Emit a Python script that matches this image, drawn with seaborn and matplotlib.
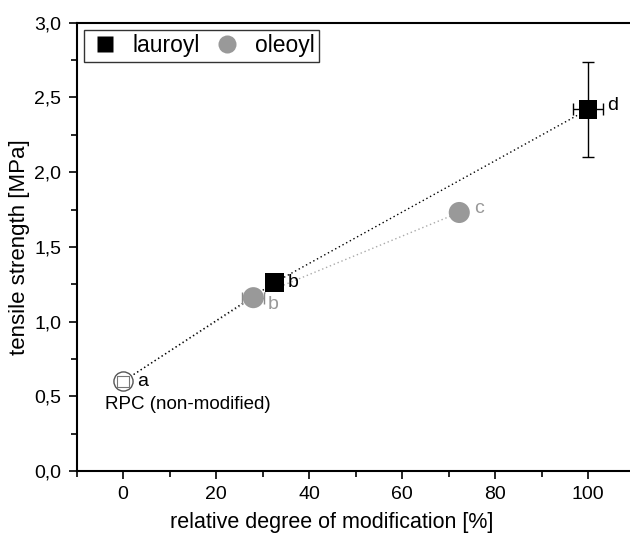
import matplotlib
matplotlib.use("Agg")
import matplotlib.pyplot as plt
import seaborn as sns
import pandas as pd
from matplotlib.ticker import FuncFormatter, MultipleLocator
from matplotlib.lines import Line2D

# ---- data ----
series = ["lauroyl", "lauroyl", "oleoyl", "oleoyl"]
modification = [32.5, 100.0, 28.0, 72.3]
strength = [1.26, 2.42, 1.16, 1.73]
x_err = [0.0, 3.2, 2.4, 0.0]
y_err = [0.0, 0.32, 0.0, 0.0]
point_labels = ["b", "d", "b", "c"]

rpc_x = [0.0]
rpc_y = [0.60]
rpc_label = "a"
rpc_name = "RPC (non-modified)"

x_ticks = [0, 20, 40, 60, 80, 100]
y_ticks = [0.0, 0.5, 1.0, 1.5, 2.0, 2.5, 3.0]

colors = {"lauroyl": "#000000", "oleoyl": "#999999"}
markers = {"lauroyl": "s", "oleoyl": "o"}
sizes = {"lauroyl": 185, "oleoyl": 230}

df = pd.DataFrame({"series": series, "x": modification, "y": strength,
                   "xerr": x_err, "yerr": y_err, "lab": point_labels})

sns.set_theme(style="ticks")
plt.rcParams["font.family"] = ["Liberation Sans", "DejaVu Sans"]
plt.rcParams["text.color"] = "black"
plt.rcParams["axes.labelcolor"] = "black"

fig = plt.figure(figsize=(6.3, 5.41), dpi=100)
ax = fig.add_axes([0.1217, 0.1294, 0.8855, 0.8286])

# connecting dotted lines (through RPC start point)
for s, ls_color in [("oleoyl", "#aaaaaa"), ("lauroyl", "#000000")]:
    sub = df[df.series == s]
    xs = rpc_x + list(sub.x)
    ys = rpc_y + list(sub.y)
    ax.plot(xs, ys, linestyle=(0, (1, 2)), color=ls_color, lw=1.0, zorder=1)

# error bars
for _, r in df.iterrows():
    if r.xerr > 0 or r.yerr > 0:
        ax.errorbar(r.x, r.y, xerr=r.xerr if r.xerr > 0 else None,
                    yerr=r.yerr if r.yerr > 0 else None, fmt="none",
                    ecolor="#000000" if r.series == "lauroyl" else "#888888",
                    elinewidth=1.0, capsize=4, capthick=1.0, zorder=2)

# RPC hollow markers
ax.scatter(rpc_x, rpc_y, marker="o", s=190, facecolor="white",
           edgecolor="#555555", linewidth=1.0, zorder=3)
ax.scatter(rpc_x, rpc_y, marker="s", s=70, facecolor="none",
           edgecolor="#777777", linewidth=0.8, zorder=4)

sns.scatterplot(data=df, x="x", y="y", hue="series", style="series",
                size="series", sizes=sizes, palette=colors, markers=markers,
                edgecolor="none", linewidth=0, legend=False, ax=ax, zorder=5)

# point labels
offsets = {("lauroyl", "b"): (10, 0),
           ("lauroyl", "d"): (14, 3),
           ("oleoyl", "b"): (10, -5),
           ("oleoyl", "c"): (11, 3)}
for _, r in df.iterrows():
    dx, dy = offsets[(r.series, r.lab)]
    ax.annotate(r.lab, (r.x, r.y), xytext=(dx, dy), textcoords="offset points",
                ha="left", va="center", fontsize=14, color=colors[r.series])
ax.annotate(rpc_label, (rpc_x[0], rpc_y[0]), xytext=(10, 0),
            textcoords="offset points", ha="left", va="center", fontsize=14)
ax.annotate(rpc_name, (rpc_x[0], rpc_y[0]), xytext=(-13, -17),
            textcoords="offset points", ha="left", va="center", fontsize=13.5)

ax.set_xlim(-10, 110)
ax.set_ylim(0, 3.0)
ax.set_xticks(x_ticks)
ax.set_yticks(y_ticks)
ax.xaxis.set_minor_locator(MultipleLocator(10))
ax.yaxis.set_minor_locator(MultipleLocator(0.25))
ax.yaxis.set_major_formatter(FuncFormatter(lambda v, p: f"{v:.1f}".replace(".", ",")))
ax.tick_params(axis="both", which="major", direction="out", length=6, width=1.2,
               labelsize=14, color="black", labelcolor="black", pad=5)
ax.tick_params(axis="both", which="minor", direction="out", length=4, width=1.2,
               color="black")
for side in ["left", "bottom", "top"]:
    ax.spines[side].set_linewidth(1.5)
    ax.spines[side].set_color("black")
ax.spines["right"].set_visible(False)

ax.set_xlabel("relative degree of modification [%]", fontsize=15.5)
ax.xaxis.set_label_coords(0.458, -0.092)
ax.set_ylabel("tensile strength [MPa]", fontsize=16, labelpad=3)

handles = [Line2D([], [], marker="s", color="none", markerfacecolor="#000000",
                  markeredgecolor="none", markersize=12, label="lauroyl"),
           Line2D([], [], marker="o", color="none", markerfacecolor="#999999",
                  markeredgecolor="none", markersize=13, label="oleoyl")]
leg = ax.legend(handles=handles, loc="upper left", ncol=2, fontsize=16.5,
                frameon=True, fancybox=False, edgecolor="black",
                bbox_to_anchor=(0.005, 0.995), borderpad=0.2,
                handletextpad=0.5, columnspacing=0.5, handlelength=1.4,
                borderaxespad=0.2)
leg.get_frame().set_linewidth(1.0)

fig.savefig("out.png", dpi=100)
